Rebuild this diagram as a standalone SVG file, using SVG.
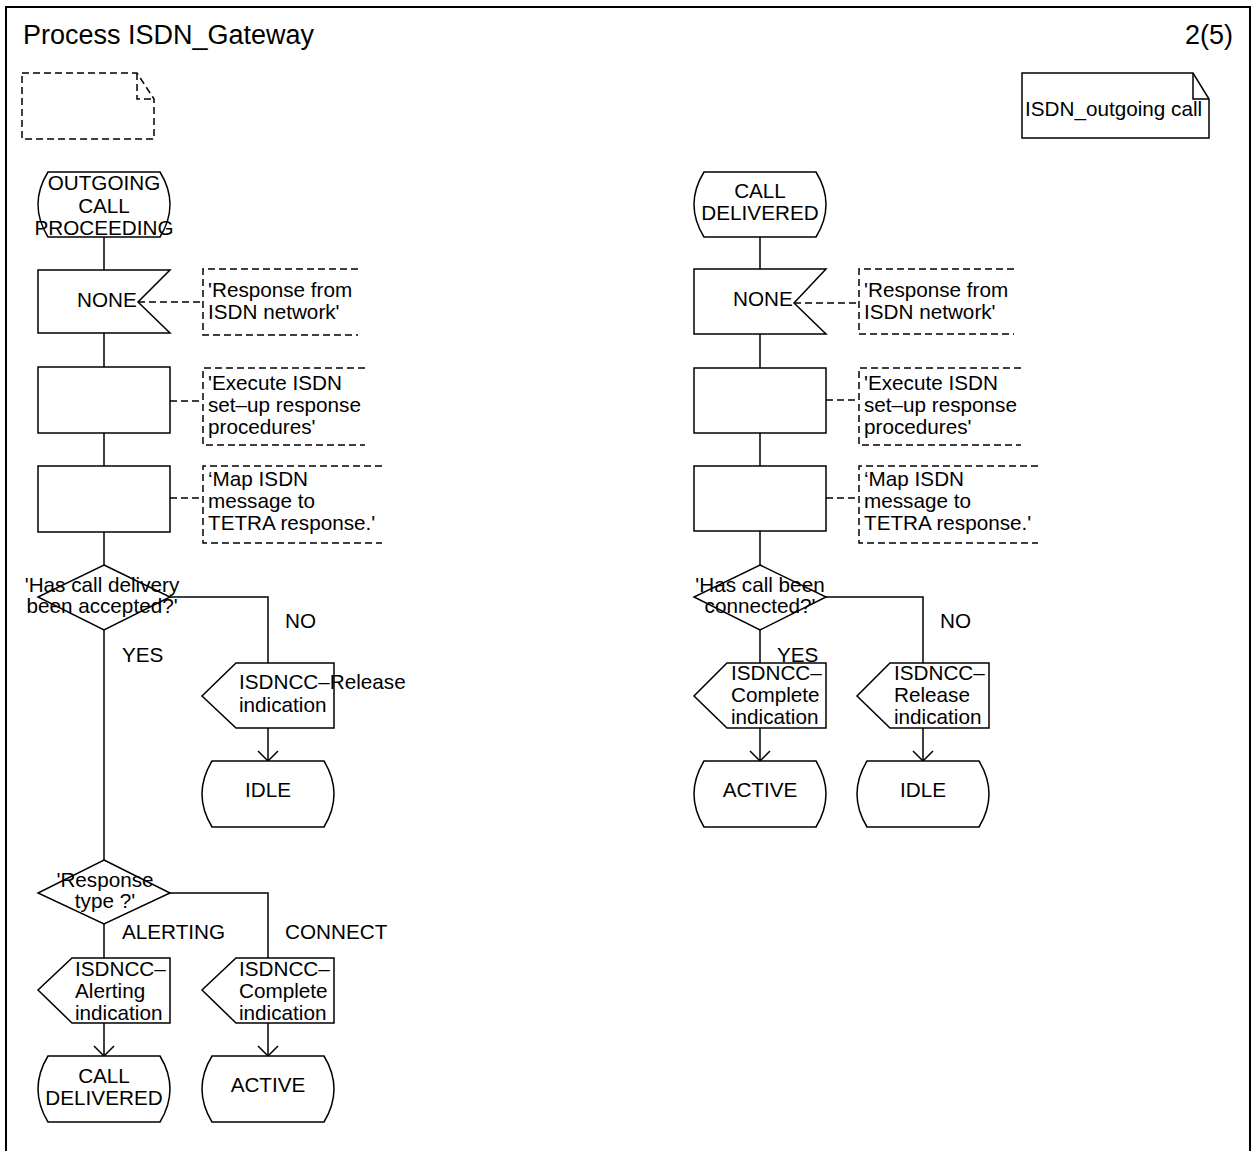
<svg xmlns="http://www.w3.org/2000/svg" width="1255" height="1151" viewBox="0 0 1255 1151">
<style>
.sh{fill:#fff;stroke:#000;stroke-width:1.5;stroke-linejoin:miter}
.ln{fill:none;stroke:#000;stroke-width:1.5}
.d{fill:none;stroke:#000;stroke-width:1.5;stroke-dasharray:7 4}
text{font-family:"Liberation Sans",Arial,Helvetica,sans-serif;font-size:20.7px;fill:#000}
.c{text-anchor:middle}
.ttl{font-size:27px}
</style>
<defs>
<marker id="arr" markerUnits="userSpaceOnUse" orient="auto" viewBox="-11 -11 12 22" markerWidth="12" markerHeight="22" refX="0" refY="0" overflow="visible">
<path d="M-10,-10 L0,0 L-10,10" fill="none" stroke="#000" stroke-width="1.5"/>
</marker>
</defs>
<rect x="6" y="7" width="1244" height="1170" fill="#fff" stroke="#000" stroke-width="2"/>
<g id="header">
<text class="ttl" x="23" y="44">Process ISDN_Gateway</text>
<text class="ttl" x="1185" y="44">2(5)</text>
</g>
<g id="note-empty">
<path class="d" d="M22,73 L137,73 L154,99 L154,139 L22,139 Z M137,73 L137,99 L154,99"/>
</g>
<g id="note-isdn">
<path class="sh" d="M1022,73 L1193,73 L1209,99 L1209,138 L1022,138 Z"/>
<path class="ln" d="M1193,73 L1193,99 L1209,99"/>
<text x="1025" y="116">ISDN_outgoing call</text>
</g>
<g id="connectors">
<path class="ln" d="M104,237 V270 M104,333 V367 M104,433 V466 M104,532 V565 M104,630 V860 M170,597 H268 V663 M170,893 H268 V958 M104,924 V958"/>
<path class="ln" d="M268,728 V761" marker-end="url(#arr)"/>
<path class="ln" d="M104,1023 V1056" marker-end="url(#arr)"/>
<path class="ln" d="M268,1023 V1056" marker-end="url(#arr)"/>
<path class="ln" d="M760,237 V269 M760,334 V368 M760,433 V466 M760,531 V565 M760,630 V663 M826,597 H923 V663"/>
<path class="ln" d="M760,728 V761" marker-end="url(#arr)"/>
<path class="ln" d="M923,728 V761" marker-end="url(#arr)"/>
<path class="d" d="M138,302 H203 M170,401 H203 M170,498 H203 M794,303 H859 M826,400 H859 M826,498 H859"/>
</g>
<g id="s-outgoing">
<path class="sh" d="M48,172 L160,172 Q180,204.5 160,237 L48,237 Q28,204.5 48,172 Z"/>
<text class="c" x="104" y="190">OUTGOING</text>
<text class="c" x="104" y="213">CALL</text>
<text class="c" x="104" y="235">PROCEEDING</text>
</g>
<g id="in-none-l">
<path class="sh" d="M38,270 L170,270 L138,302 L170,333 L38,333 Z"/>
<text x="77" y="307">NONE</text>
</g>
<g id="cm-resp-l">
<path class="d" d="M358,269 H203 V335 H358"/>
<text x="208" y="297">'Response from</text>
<text x="208" y="319">ISDN network'</text>
</g>
<g id="t-exec-l">
<rect class="sh" x="38" y="367" width="132" height="66"/>
</g>
<g id="cm-exec-l">
<path class="d" d="M365,368 H203 V445 H365"/>
<text x="208" y="390">'Execute ISDN</text>
<text x="208" y="412">set–up response</text>
<text x="208" y="434">procedures'</text>
</g>
<g id="t-map-l">
<rect class="sh" x="38" y="466" width="132" height="66"/>
</g>
<g id="cm-map-l">
<path class="d" d="M382,466 H203 V543 H382"/>
<text x="208" y="486">‘Map ISDN</text>
<text x="208" y="508">message to</text>
<text x="208" y="530">TETRA response.'</text>
</g>
<g id="dec-accepted">
<path class="sh" d="M104,565 L170,597 L104,630 L38,597 Z"/>
<text class="c" x="102" y="592">'Has call delivery</text>
<text class="c" x="102" y="613">been accepted?'</text>
<text x="285" y="628">NO</text>
<text x="122" y="662">YES</text>
</g>
<g id="out-release-l">
<path class="sh" d="M236,663 L334,663 L334,728 L236,728 L202,696 Z"/>
<text x="239" y="689">ISDNCC–Release</text>
<text x="239" y="712">indication</text>
</g>
<g id="s-idle-l">
<path class="sh" d="M212,761 L324,761 Q344,794 324,827 L212,827 Q192,794 212,761 Z"/>
<text class="c" x="268" y="797">IDLE</text>
</g>
<g id="dec-resptype">
<path class="sh" d="M104,860 L170,893 L104,924 L38,893 Z"/>
<text class="c" x="105" y="887">'Response</text>
<text class="c" x="105" y="908">type ?'</text>
<text x="122" y="939">ALERTING</text>
<text x="285" y="939">CONNECT</text>
</g>
<g id="out-alerting">
<path class="sh" d="M72,958 L170,958 L170,1023 L72,1023 L38,990 Z"/>
<text x="75" y="976">ISDNCC–</text>
<text x="75" y="998">Alerting</text>
<text x="75" y="1020">indication</text>
</g>
<g id="out-complete-l">
<path class="sh" d="M236,958 L334,958 L334,1023 L236,1023 L202,990 Z"/>
<text x="239" y="976">ISDNCC–</text>
<text x="239" y="998">Complete</text>
<text x="239" y="1020">indication</text>
</g>
<g id="s-delivered-l">
<path class="sh" d="M48,1056 L160,1056 Q180,1089 160,1122 L48,1122 Q28,1089 48,1056 Z"/>
<text class="c" x="104" y="1083">CALL</text>
<text class="c" x="104" y="1105">DELIVERED</text>
</g>
<g id="s-active-l">
<path class="sh" d="M212,1056 L324,1056 Q344,1089 324,1122 L212,1122 Q192,1089 212,1056 Z"/>
<text class="c" x="268" y="1092">ACTIVE</text>
</g>
<g id="s-delivered-r">
<path class="sh" d="M704,172 L816,172 Q836,204.5 816,237 L704,237 Q684,204.5 704,172 Z"/>
<text class="c" x="760" y="198">CALL</text>
<text class="c" x="760" y="220">DELIVERED</text>
</g>
<g id="in-none-r">
<path class="sh" d="M694,269 L826,269 L794,303 L826,334 L694,334 Z"/>
<text x="733" y="306">NONE</text>
</g>
<g id="cm-resp-r">
<path class="d" d="M1014,269 H859 V334 H1014"/>
<text x="864" y="297">'Response from</text>
<text x="864" y="319">ISDN network'</text>
</g>
<g id="t-exec-r">
<rect class="sh" x="694" y="368" width="132" height="65"/>
</g>
<g id="cm-exec-r">
<path class="d" d="M1021,368 H859 V445 H1021"/>
<text x="864" y="390">'Execute ISDN</text>
<text x="864" y="412">set–up response</text>
<text x="864" y="434">procedures'</text>
</g>
<g id="t-map-r">
<rect class="sh" x="694" y="466" width="132" height="65"/>
</g>
<g id="cm-map-r">
<path class="d" d="M1038,466 H859 V543 H1038"/>
<text x="864" y="486">‘Map ISDN</text>
<text x="864" y="508">message to</text>
<text x="864" y="530">TETRA response.'</text>
</g>
<g id="dec-connected">
<path class="sh" d="M760,565 L826,597 L760,630 L694,597 Z"/>
<text class="c" x="760" y="592">'Has call been</text>
<text class="c" x="760" y="613">connected?'</text>
<text x="940" y="628">NO</text>
<text x="777" y="662">YES</text>
</g>
<g id="out-complete-r">
<path class="sh" d="M727,663 L826,663 L826,728 L727,728 L694,696 Z"/>
<text x="731" y="680">ISDNCC–</text>
<text x="731" y="702">Complete</text>
<text x="731" y="724">indication</text>
</g>
<g id="out-release-r">
<path class="sh" d="M890,663 L989,663 L989,728 L890,728 L857,696 Z"/>
<text x="894" y="680">ISDNCC–</text>
<text x="894" y="702">Release</text>
<text x="894" y="724">indication</text>
</g>
<g id="s-active-r">
<path class="sh" d="M704,761 L816,761 Q836,794 816,827 L704,827 Q684,794 704,761 Z"/>
<text class="c" x="760" y="797">ACTIVE</text>
</g>
<g id="s-idle-r">
<path class="sh" d="M867,761 L979,761 Q999,794 979,827 L867,827 Q847,794 867,761 Z"/>
<text class="c" x="923" y="797">IDLE</text>
</g>
</svg>
